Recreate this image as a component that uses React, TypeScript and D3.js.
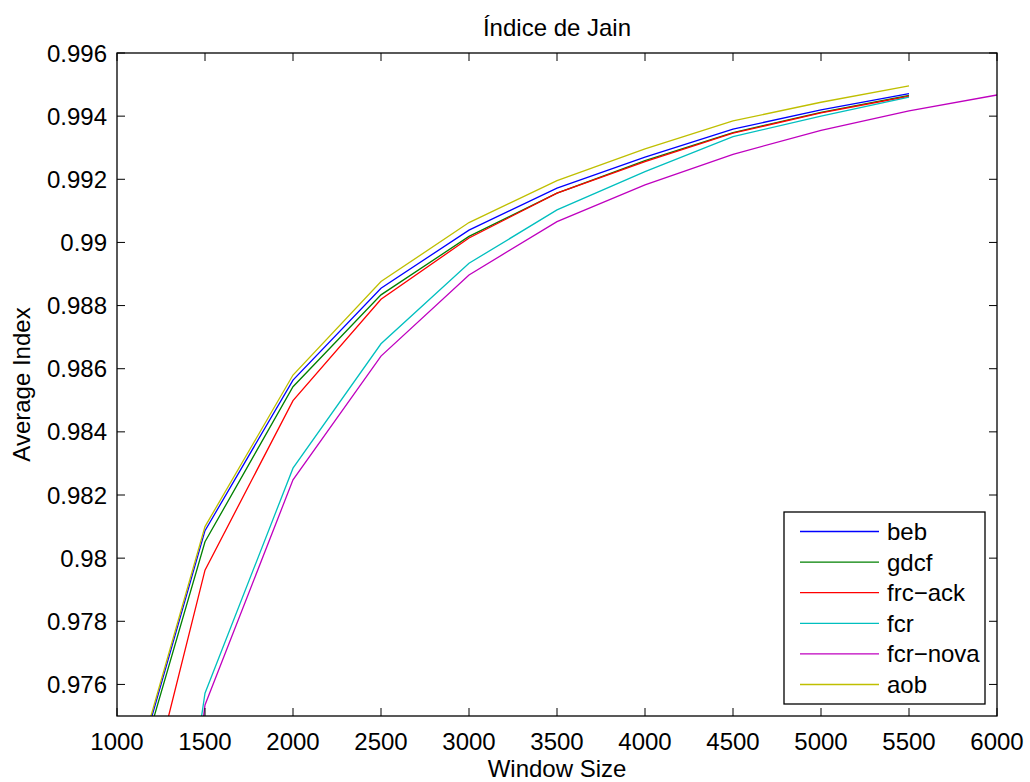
import React from "react";
import * as d3 from "d3";

const xValues = [1000, 1500, 2000, 2500, 3000, 3500, 4000, 4500, 5000, 5500];
const xValuesNova = [1000, 1500, 2000, 2500, 3000, 3500, 4000, 4500, 5000, 5500, 6000];

const bebValues = [0.97112, 0.98087, 0.98564, 0.98855, 0.99039, 0.99172, 0.9927, 0.99359, 0.9942, 0.99471];
const gdcfValues = [0.97094, 0.98052, 0.98543, 0.98834, 0.99019, 0.99156, 0.99259, 0.99348, 0.99412, 0.99466];
const frcAckValues = [0.96845, 0.97962, 0.98499, 0.9882, 0.99014, 0.99156, 0.99256, 0.99346, 0.9941, 0.99463];
const fcrValues = [0.957, 0.97572, 0.98285, 0.98679, 0.98934, 0.99103, 0.99224, 0.99335, 0.994, 0.9946];
const fcrNovaValues = [0.9535, 0.97535, 0.98248, 0.9864, 0.98897, 0.99066, 0.99182, 0.99279, 0.99355, 0.99417, 0.99467];
const aobValues = [0.97123, 0.981, 0.9858, 0.98876, 0.99063, 0.99196, 0.99296, 0.99385, 0.99444, 0.99496];

const seriesNames = ["beb", "gdcf", "frc\u2212ack", "fcr", "fcr\u2212nova", "aob"];
const seriesColors = ["#0000ff", "#008000", "#ff0000", "#00bfbf", "#bf00bf", "#bfbf00"];

const xTicks = [1000, 1500, 2000, 2500, 3000, 3500, 4000, 4500, 5000, 5500, 6000];
const yTicks = [0.976, 0.978, 0.98, 0.982, 0.984, 0.986, 0.988, 0.99, 0.992, 0.994, 0.996];

const W = 1030, H = 782;
const L = 117, R = 997, T = 53, B = 716;
const FONT = "'Liberation Sans', Arial, Helvetica, sans-serif";
const FS = 24;

export default function App() {
  const x = d3.scaleLinear().domain([1000, 6000]).range([L, R]);
  const y = d3.scaleLinear().domain([0.975, 0.996]).range([B, T]);

  const series = [
    { xs: xValues, ys: bebValues },
    { xs: xValues, ys: gdcfValues },
    { xs: xValues, ys: frcAckValues },
    { xs: xValues, ys: fcrValues },
    { xs: xValuesNova, ys: fcrNovaValues },
    { xs: xValues, ys: aobValues },
  ];

  const line = d3
    .line<[number, number]>()
    .x((d) => x(d[0]))
    .y((d) => y(d[1]));

  const tickLen = 8;
  const legX = 784, legY = 512, legW = 201, legH = 192;
  const rowH = 30.6;

  return (
    <svg
      width={W}
      height={H}
      style={{ position: "absolute", left: 0, top: 0, background: "#fff" }}
      fontFamily={FONT}
    >
      <rect x={0} y={0} width={W} height={H} fill="#fff" />
      <defs>
        <clipPath id="plotClip">
          <rect x={L} y={T} width={R - L} height={B - T} />
        </clipPath>
      </defs>

      <g clipPath="url(#plotClip)">
        {series.map((s, i) => (
          <path
            key={i}
            d={line(s.xs.map((v, j) => [v, s.ys[j]] as [number, number])) || ""}
            fill="none"
            stroke={seriesColors[i]}
            strokeWidth={1.3}
          />
        ))}
      </g>

      <rect x={L} y={T} width={R - L} height={B - T} fill="none" stroke="#000" strokeWidth={1.3} />

      {xTicks.map((t) => (
        <g key={"x" + t}>
          <line x1={x(t)} x2={x(t)} y1={B} y2={B - tickLen} stroke="#000" strokeWidth={1} />
          <line x1={x(t)} x2={x(t)} y1={T} y2={T + tickLen} stroke="#000" strokeWidth={1} />
          <text x={x(t)} y={750} textAnchor="middle" fontSize={FS} fill="#000">
            {t}
          </text>
        </g>
      ))}

      {yTicks.map((t) => (
        <g key={"y" + t}>
          <line x1={L} x2={L + tickLen} y1={y(t)} y2={y(t)} stroke="#000" strokeWidth={1} />
          <line x1={R} x2={R - tickLen} y1={y(t)} y2={y(t)} stroke="#000" strokeWidth={1} />
          <text x={L - 10} y={y(t) + 8.5} textAnchor="end" fontSize={FS} fill="#000">
            {d3.format("")(+t.toFixed(3))}
          </text>
        </g>
      ))}

      <text x={(L + R) / 2} y={36} textAnchor="middle" fontSize={FS} fill="#000">
        Índice de Jain
      </text>
      <text x={(L + R) / 2} y={777} textAnchor="middle" fontSize={FS} fill="#000">
        Window Size
      </text>
      <text
        transform={`translate(30, ${(T + B) / 2}) rotate(-90)`}
        textAnchor="middle"
        fontSize={FS}
        fill="#000"
      >
        Average Index
      </text>

      <rect x={legX} y={legY} width={legW} height={legH} fill="#fff" stroke="#000" strokeWidth={1.3} />
      {seriesNames.map((name, i) => {
        const cy = legY + 19.5 + i * rowH;
        return (
          <g key={name}>
            <line x1={800} x2={879} y1={cy} y2={cy} stroke={seriesColors[i]} strokeWidth={1.3} />
            <text x={887} y={cy + 8.5} fontSize={FS} fill="#000">
              {name}
            </text>
          </g>
        );
      })}
    </svg>
  );
}
